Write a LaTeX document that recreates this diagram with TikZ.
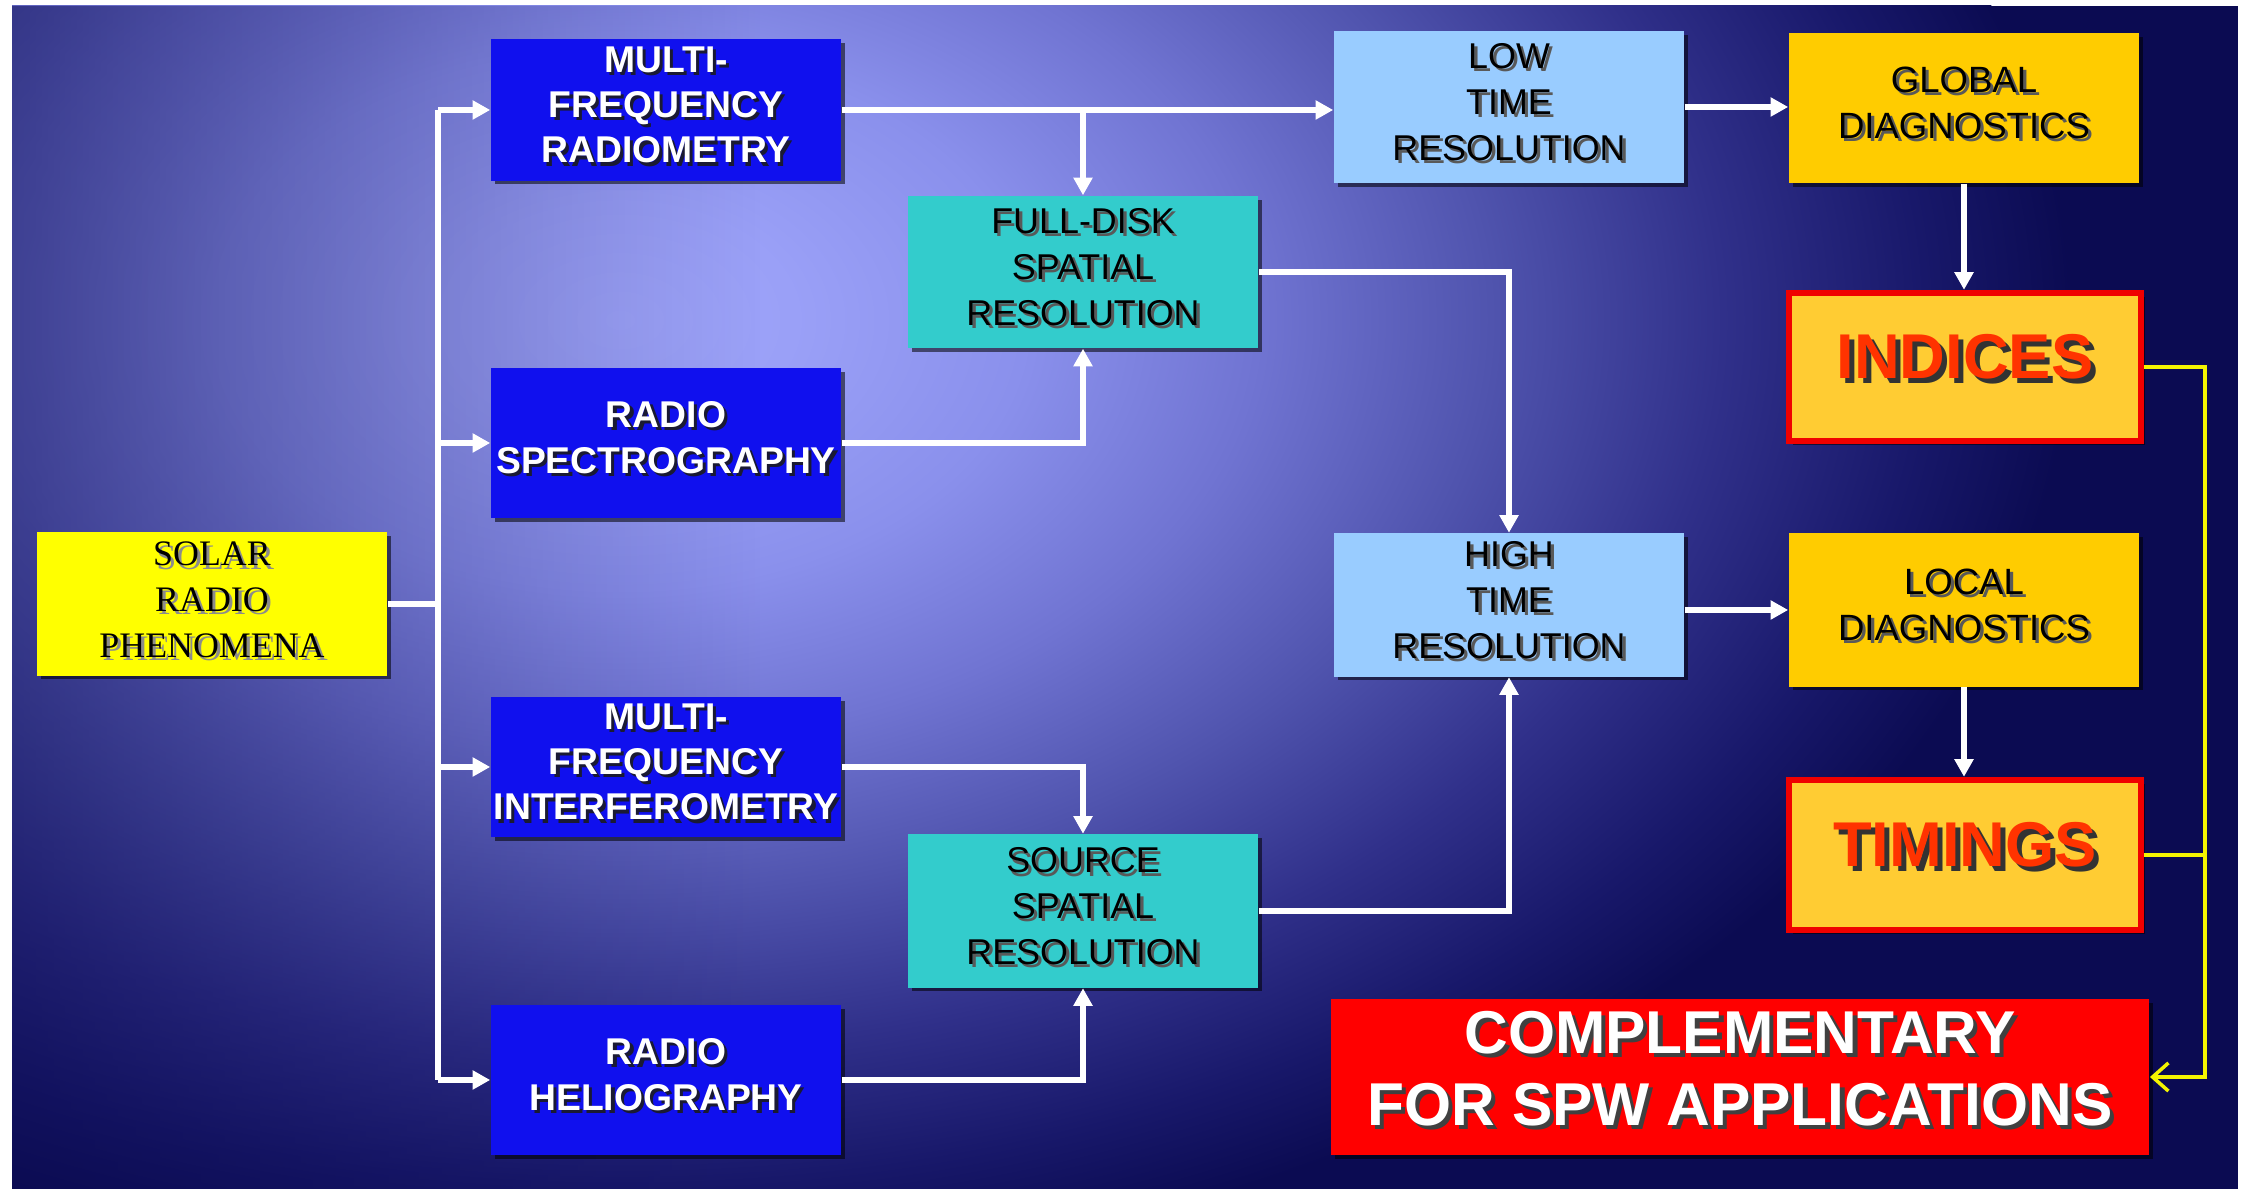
\documentclass[tikz,border=0pt]{standalone}
\usepackage{fontspec}
\setmainfont{Liberation Sans}
\newfontfamily\serifface{Liberation Serif}
\usetikzlibrary{arrows.meta,shadows,fadings}

% palette
\definecolor{navy}{HTML}{0B0B52}
\definecolor{glowA}{HTML}{A0A6FB}
\definecolor{glowB}{HTML}{9AA0F7}
\definecolor{glowC}{HTML}{8A90EC}
\definecolor{glowD}{HTML}{7074D2}
\definecolor{glowE}{HTML}{5054AE}
\definecolor{glowF}{HTML}{30308A}
\definecolor{glowG}{HTML}{18186A}
\definecolor{instblue}{HTML}{1010EE}
\definecolor{spatteal}{HTML}{33CCCC}
\definecolor{timeblue}{HTML}{99CCFF}
\definecolor{diaggold}{HTML}{FFCC00}
\definecolor{prodgold}{HTML}{FFCC33}
\definecolor{prodred}{HTML}{F00000}
\definecolor{prodtext}{HTML}{FF3300}
\definecolor{outred}{HTML}{FF0000}
\definecolor{phenyellow}{HTML}{FFFF00}
\definecolor{feedyellow}{HTML}{F4F400}
\definecolor{txtshadow}{HTML}{1A1A33}

% background glow
\pgfdeclareradialshading{skyglow}{\pgfpoint{0bp}{0bp}}{%
  color(0bp)=(glowA); color(3bp)=(glowB); color(7bp)=(glowC);
  color(11bp)=(glowD); color(15bp)=(glowE); color(19bp)=(glowF);
  color(22.5bp)=(glowG); color(25bp)=(navy); color(50bp)=(navy)}
% darkening towards the left edge
\tikzfading[name=leftdark, left color=transparent!0, right color=transparent!100]

% centred lines of text with an offset shadow behind them
\newcommand\shadowlines[4][0.9pt]{%
  \makebox[0pt][l]{\kern#1\raisebox{-#1}{\textcolor{#3}{\begin{tabular}{@{}c@{}}#4\end{tabular}}}}%
  \textcolor{#2}{\begin{tabular}{@{}c@{}}#4\end{tabular}}}

\tikzset{
  card/.style={rectangle, inner sep=0pt, minimum width=3.5cm,
    drop shadow={shadow xshift=1.1pt, shadow yshift=-1.1pt, opacity=.55, fill=black}},
  instrument/.style={card, fill=instblue, font=\bfseries\fontsize{10.6}{12.9}\selectfont},
  phenom/.style={card, fill=phenyellow, font=\serifface\fontsize{10.2}{13}\selectfont},
  spatial/.style={card, fill=spatteal, font=\fontsize{10.2}{13}\selectfont},
  timing/.style={card, fill=timeblue, font=\fontsize{10.2}{13}\selectfont},
  diag/.style={card, fill=diaggold, font=\fontsize{10.4}{13}\selectfont},
  product/.style={card, fill=prodgold, draw=prodred, line width=1.8pt,
    minimum width=3.52cm, font=\bfseries\fontsize{18}{20}\selectfont},
  outcome/.style={card, fill=outred, minimum width=8.18cm,
    font=\bfseries\fontsize{17.2}{20.5}\selectfont},
  link/.style={draw=white, line width=1.5pt},
  flow/.style={link, -{Triangle[length=5pt,width=5.2pt]}},
  feed/.style={draw=feedyellow, line width=1pt},
}

\begin{document}
\begin{tikzpicture}[x=0.01cm, y=-0.01cm]
\useasboundingbox (0,0) rectangle (2244,1189);
\fill[white] (0,0) rectangle (2244,1189);
\begin{scope}
  \clip (12,6) rectangle (2238,1189);
  \fill[navy] (12,6) rectangle (2238,1189);
  \shade[shading=skyglow] (620,320) ellipse [x radius=14.5cm, y radius=9.6cm];
  \fill[navy, opacity=.5, path fading=leftdark] (12,6) rectangle (760,1189);
\end{scope}

% source
\node[phenom, minimum height=1.43cm] (solar) at (212,604)
  {\shadowlines{black}{black!45}{SOLAR\\RADIO\\PHENOMENA}};

% instruments
\node[instrument, minimum height=1.41cm] (mfr) at (666,110)
  {\shadowlines{white}{txtshadow}{MULTI-\\FREQUENCY\\RADIOMETRY}};
\node[instrument, minimum height=1.50cm] (rs) at (666,443)
  {\shadowlines{white}{txtshadow}{RADIO\\SPECTROGRAPHY}};
\node[instrument, minimum height=1.40cm] (mfi) at (666,767)
  {\shadowlines{white}{txtshadow}{MULTI-\\FREQUENCY\\INTERFEROMETRY}};
\node[instrument, minimum height=1.50cm] (rh) at (666,1080)
  {\shadowlines{white}{txtshadow}{RADIO\\HELIOGRAPHY}};

% spatial resolution
\node[spatial, minimum height=1.52cm] (fd) at (1083,272)
  {\shadowlines{black}{black!65}{FULL-DISK\\SPATIAL\\RESOLUTION}};
\node[spatial, minimum height=1.53cm] (src) at (1083,911)
  {\shadowlines{black}{black!65}{SOURCE\\SPATIAL\\RESOLUTION}};

% time resolution
\node[timing, minimum height=1.52cm] (low) at (1509,107)
  {\shadowlines{black}{black!65}{LOW\\TIME\\RESOLUTION}};
\node[timing, minimum height=1.43cm] (high) at (1509,605)
  {\shadowlines{black}{black!65}{HIGH\\TIME\\RESOLUTION}};

% diagnostics
\node[diag, minimum height=1.50cm] (glob) at (1964,108)
  {\shadowlines{black}{black!65}{GLOBAL\\DIAGNOSTICS}};
\node[diag, minimum height=1.53cm] (loc) at (1964,610)
  {\shadowlines{black}{black!65}{LOCAL\\DIAGNOSTICS}};

% products
\node[product, minimum height=1.48cm] (ind) at (1965,367)
  {\shadowlines[1.4pt]{prodtext}{black!80}{INDICES}};
\node[product, minimum height=1.50cm] (tim) at (1965,855)
  {\shadowlines[1.4pt]{prodtext}{black!80}{TIMINGS}};

% outcome
\node[outcome, minimum height=1.56cm] (comp) at (1740,1077)
  {\shadowlines[1.2pt]{white}{black!75}{COMPLEMENTARY\\FOR SPW APPLICATIONS}};

% distribution bus from the source
\coordinate (bus) at (438,604);
\draw[link] (solar.east) -- (bus);
\draw[link] (bus |- mfr) -- (bus |- rh);
\draw[flow] (bus |- mfr) -- (mfr.west);
\draw[flow] (bus |- rs) -- (rs.west);
\draw[flow] (bus |- mfi) -- (mfi.west);
\draw[flow] (bus |- rh) -- (rh.west);

% instruments to resolutions
\draw[flow] (mfr.east) -- (mfr.east -| low.west);
\draw[flow] (mfr.east -| fd.north) -- (fd.north);
\draw[flow] (rs.east) -| (fd.south);
\draw[flow] (mfi.east) -| (src.north);
\draw[flow] (rh.east) -| (src.south);
\draw[flow] (fd.east) -| (high.north);
\draw[flow] (src.east) -| (high.south);

% resolutions to diagnostics to products
\draw[flow] (low.east) -- (low.east -| glob.west);
\draw[flow] (loc.west -| high.east) -- (loc.west);
\draw[flow] (glob.south) -- (glob.south |- ind.north);
\draw[flow] (loc.south) -- (loc.south |- tim.north);

% products feed the outcome
\coordinate (feedbus) at (2205,367);
\draw[feed, -{Straight Barb[length=4.5pt,width=8pt]}]
  (ind.east) -| (feedbus |- comp.east) -- (comp.east);
\draw[feed] (tim.east) -- (tim.east -| feedbus);
\end{tikzpicture}
\end{document}
